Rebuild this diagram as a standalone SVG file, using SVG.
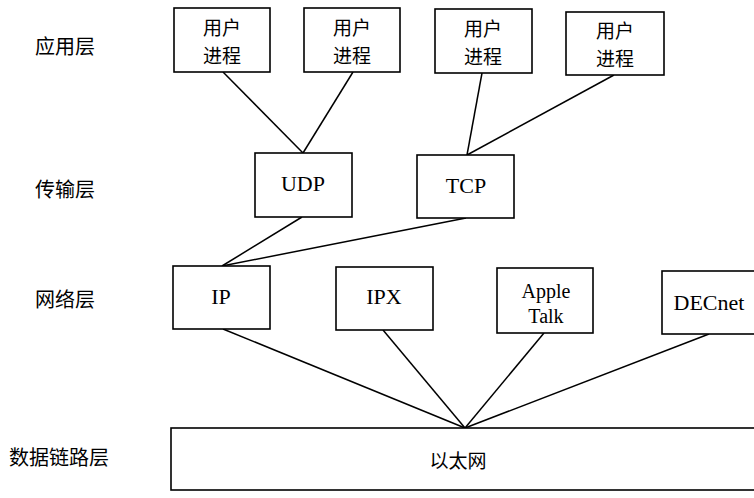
<svg xmlns="http://www.w3.org/2000/svg" width="754" height="498" viewBox="0 0 754 498">
<style>
.box{fill:#fff;stroke:#000;stroke-width:1.6}
.ln{stroke:#000;stroke-width:1.5;fill:none}
.cjk{font-family:"Noto Sans CJK SC","Noto Sans CJK JP",sans-serif;font-size:19px;fill:#000;text-anchor:middle}
.lab{font-family:"Noto Sans CJK SC","Noto Sans CJK JP",sans-serif;font-size:20px;fill:#000}
.lat{font-family:"Liberation Serif","Times New Roman",serif;font-size:22px;fill:#000;text-anchor:middle}
.lat2{font-family:"Liberation Serif","Times New Roman",serif;font-size:20px;fill:#000;text-anchor:middle}
</style>
<rect width="754" height="498" fill="#fff"/>
<g id="labels">
<text class="lab" x="35" y="54">应用层</text>
<text class="lab" x="35" y="197">传输层</text>
<text class="lab" x="35" y="307">网络层</text>
<text class="lab" x="9" y="465">数据链路层</text>
</g>
<g id="connectors">
<line class="ln" x1="223" y1="72" x2="303" y2="153"/>
<line class="ln" x1="353" y1="72" x2="303" y2="153"/>
<line class="ln" x1="482" y1="73" x2="467" y2="155"/>
<line class="ln" x1="614" y1="75" x2="467" y2="155"/>
<line class="ln" x1="302" y1="217" x2="222" y2="266"/>
<line class="ln" x1="466" y1="218" x2="222" y2="266"/>
<line class="ln" x1="223" y1="329" x2="465" y2="428"/>
<line class="ln" x1="383" y1="330" x2="465" y2="428"/>
<line class="ln" x1="544" y1="333" x2="465" y2="428"/>
<line class="ln" x1="709" y1="334" x2="465" y2="428"/>
</g>
<g id="app1"><rect class="box" x="174" y="8" width="96" height="64"/><text class="cjk" x="222" y="35">用户</text><text class="cjk" x="222" y="63">进程</text></g>
<g id="app2"><rect class="box" x="304" y="8" width="96" height="64"/><text class="cjk" x="352" y="35">用户</text><text class="cjk" x="352" y="63">进程</text></g>
<g id="app3"><rect class="box" x="435" y="9" width="97" height="64"/><text class="cjk" x="483" y="36">用户</text><text class="cjk" x="483" y="64">进程</text></g>
<g id="app4"><rect class="box" x="566" y="12" width="98" height="63"/><text class="cjk" x="615" y="38">用户</text><text class="cjk" x="615" y="66">进程</text></g>
<g id="udp"><rect class="box" x="255" y="153" width="97" height="64"/><text class="lat" x="303" y="191">UDP</text></g>
<g id="tcp"><rect class="box" x="417" y="155" width="97" height="63"/><text class="lat" x="466" y="193">TCP</text></g>
<g id="ip"><rect class="box" x="173" y="266" width="97" height="63"/><text class="lat" x="221" y="304">IP</text></g>
<g id="ipx"><rect class="box" x="336" y="267" width="97" height="63"/><text class="lat" x="384" y="304">IPX</text></g>
<g id="appletalk"><rect class="box" x="497" y="268" width="96" height="65"/><text class="lat2" x="546" y="298">Apple</text><text class="lat2" x="546" y="323">Talk</text></g>
<g id="decnet"><rect class="box" x="662" y="271" width="100" height="63"/><text class="lat" x="709" y="310">DECnet</text></g>
<g id="ethernet"><rect class="box" x="171" y="428" width="600" height="62"/><text class="cjk" x="458" y="468">以太网</text></g>
</svg>
